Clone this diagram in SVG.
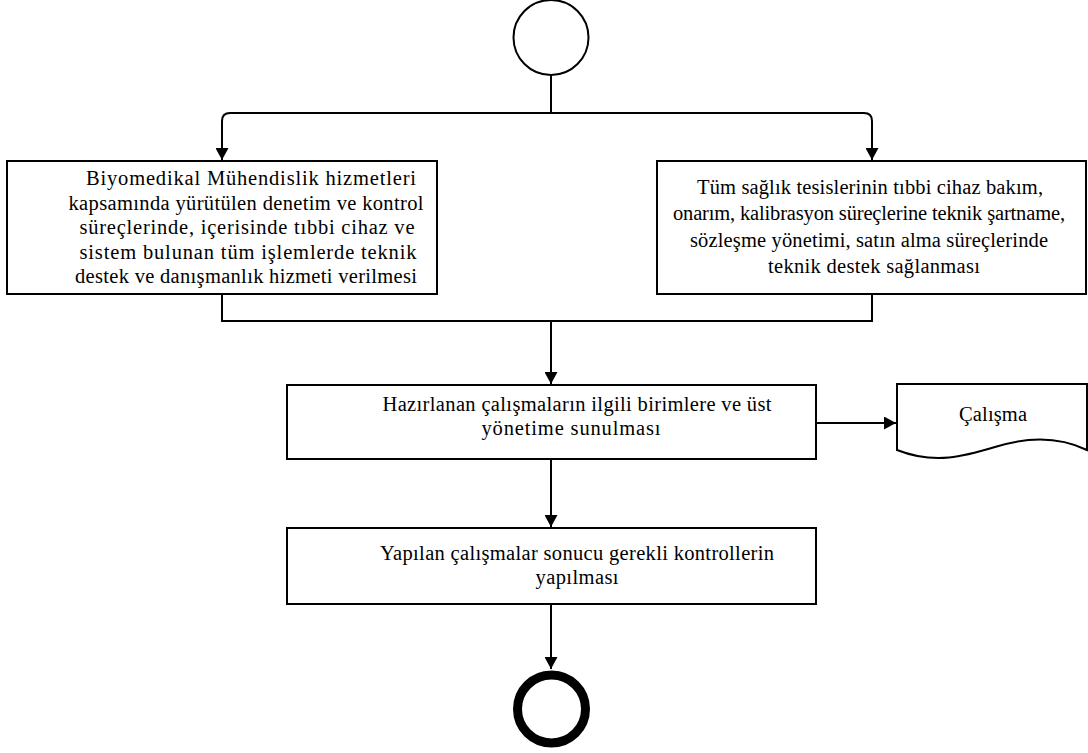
<svg xmlns="http://www.w3.org/2000/svg" width="1088" height="753" viewBox="0 0 1088 753">
  <defs>
    <marker id="arrow" markerWidth="12" markerHeight="13" refX="12" refY="6.5" orient="auto" markerUnits="userSpaceOnUse">
      <path d="M0,0 L12,6.5 L0,13 Z" fill="#000"/>
    </marker>
    <style>
      .box { fill: #fff; stroke: #000; stroke-width: 2; }
      .line { fill: none; stroke: #000; stroke-width: 2; }
      .lbl { font-family: "Liberation Serif", "Times New Roman", serif; font-size: 20.5px; fill: #000; text-anchor: middle; }
    </style>
  </defs>
  <rect width="1088" height="753" fill="#fff"/>

  <!-- connectors -->
  <g id="connectors">
    <path class="line" d="M551,75 V113"/>
    <path class="line" d="M551,113 H230 Q222,113 222,121 V160" marker-end="url(#arrow)"/>
    <path class="line" d="M551,113 H864 Q872,113 872,121 V160" marker-end="url(#arrow)"/>
    <path class="line" d="M222,294 V321 H872 V294"/>
    <path class="line" d="M551,321 V384" marker-end="url(#arrow)"/>
    <path class="line" d="M816,423 H896" marker-end="url(#arrow)"/>
    <path class="line" d="M551,459 V527" marker-end="url(#arrow)"/>
    <path class="line" d="M551,604 V669" marker-end="url(#arrow)"/>
  </g>

  <!-- start -->
  <g id="start">
    <circle cx="551" cy="37.5" r="37.5" fill="#fff" stroke="#000" stroke-width="2"/>
  </g>

  <!-- left task -->
  <g id="task-biomedical">
    <rect class="box" x="7" y="161" width="430" height="133"/>
    <text class="lbl" x="251" y="185" textLength="330">Biyomedikal Mühendislik hizmetleri</text>
    <text class="lbl" x="246" y="209.5" textLength="355">kapsamında yürütülen denetim ve kontrol</text>
    <text class="lbl" x="247" y="234" textLength="335">süreçlerinde, içerisinde tıbbi cihaz ve</text>
    <text class="lbl" x="248" y="258.5" textLength="337">sistem bulunan tüm işlemlerde teknik</text>
    <text class="lbl" x="246" y="283" textLength="342">destek ve danışmanlık hizmeti verilmesi</text>
  </g>

  <!-- right task -->
  <g id="task-facilities">
    <rect class="box" x="657" y="161" width="429" height="133"/>
    <text class="lbl" x="870" y="194" textLength="346">Tüm sağlık tesislerinin tıbbi cihaz bakım,</text>
    <text class="lbl" x="869" y="220" textLength="392">onarım, kalibrasyon süreçlerine teknik şartname,</text>
    <text class="lbl" x="869" y="246.5" textLength="358">sözleşme yönetimi, satın alma süreçlerinde</text>
    <text class="lbl" x="874" y="273" textLength="212">teknik destek sağlanması</text>
  </g>

  <!-- present results -->
  <g id="task-present">
    <rect class="box" x="287" y="385" width="529" height="74"/>
    <text class="lbl" x="577" y="411" textLength="389">Hazırlanan çalışmaların ilgili birimlere ve üst</text>
    <text class="lbl" x="571" y="435" textLength="179">yönetime sunulması</text>
  </g>

  <!-- document output -->
  <g id="doc-calisma">
    <path class="box" d="M897,384 H1087 V450 C1060,437 1030,436 995,447 C965,456 935,465 897,450 Z"/>
    <text class="lbl" x="993" y="421" textLength="68">Çalışma</text>
  </g>

  <!-- checks -->
  <g id="task-controls">
    <rect class="box" x="287" y="528" width="529" height="76"/>
    <text class="lbl" x="577" y="560" textLength="394">Yapılan çalışmalar sonucu gerekli kontrollerin</text>
    <text class="lbl" x="577" y="584" textLength="83">yapılması</text>
  </g>

  <!-- end -->
  <g id="end">
    <circle cx="551.5" cy="709" r="34" fill="#fff" stroke="#000" stroke-width="9"/>
  </g>
</svg>
